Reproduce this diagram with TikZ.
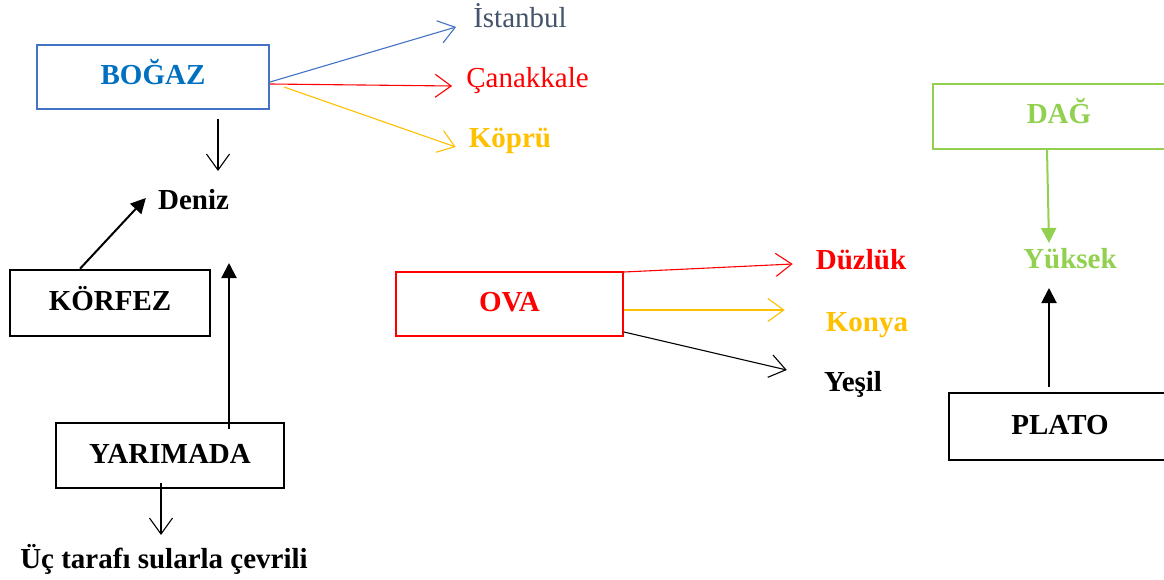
\documentclass[tikz,border=0pt]{standalone}
\usepackage{fontspec}
\setmainfont{Liberation Serif}
\usetikzlibrary{arrows.meta}
\definecolor{bxblue}{HTML}{4472C4}
\definecolor{txblue}{HTML}{0070C0}
\definecolor{slate}{HTML}{44546A}
\definecolor{gold}{HTML}{FFC000}
\definecolor{lgreen}{HTML}{92D050}
\definecolor{pure red}{HTML}{FF0000}
\begin{document}
\begin{tikzpicture}[x=1pt,y=-1pt,
  tbox/.style={draw, rectangle, line width=2pt, inner sep=0pt,
    text height=20pt, text depth=5pt,
    font=\fontsize{29}{31}\selectfont\bfseries},
  lbl/.style={inner sep=0pt, anchor=base, font=\fontsize{29}{31}\selectfont\bfseries},
  lblr/.style={inner sep=0pt, anchor=base, font=\fontsize{29}{31}\selectfont},
  openarr/.style={line width=1.1pt, -{Straight Barb[length=16pt,width=23pt,line width=1.1pt]}},
  solidarr/.style={line width=2pt, -{Triangle[length=15pt,width=15pt]}}]
\clip (0,0) rectangle (1164,580);
\fill[white] (0,0) rectangle (1164,580);

% boxes
\node[tbox, draw=bxblue, text=txblue, minimum width=232pt, minimum height=64pt] (bogaz) at (153,77) {BOĞAZ};
\node[tbox, line width=2.5pt, minimum width=200pt, minimum height=66pt] (korfez) at (110,303) {KÖRFEZ};
\node[tbox, line width=2.5pt, minimum width=228pt, minimum height=65pt] (yarimada) at (170,455.5) {YARIMADA};
\node[tbox, draw=pure red, text=pure red, minimum width=227pt, minimum height=64pt] (ova) at (509.5,304) {OVA};
\node[tbox, draw=lgreen, text=lgreen, minimum width=252pt, minimum height=65pt] (dag) at (1059,116.5) {DAĞ};
\node[tbox, line width=2.5pt, minimum width=222pt, minimum height=67pt] (plato) at (1060,426.5) {PLATO};

% labels
\node[lblr, text=slate] (ist) at (520,28) {İstanbul};
\node[lblr, text=pure red] (can) at (527.5,88) {Çanakkale};
\node[lbl, text=gold] (kopru) at (510,148) {Köprü};
\node[lbl] (deniz) at (193.5,209) {Deniz};
\node[lbl] (uc) at (164,568) {Üç tarafı sularla çevrili};
\node[lbl, text=pure red] (duzluk) at (861,269) {Düzlük};
\node[lbl, text=gold] (konya) at (867,331) {Konya};
\node[lbl] (yesil) at (853,391) {Yeşil};
\node[lbl, text=lgreen] (yuksek) at (1070,268) {Yüksek};

% BOGAZ connectors
\draw[openarr, draw=bxblue] ([yshift=-5pt]bogaz.east) -- ([xshift=-17pt,yshift=1pt]ist.base west);
\draw[openarr, draw=pure red] ([yshift=-7pt]bogaz.east) -- ([xshift=-14pt,yshift=2pt]can.base west);
\draw[openarr, draw=gold] ([xshift=14pt,yshift=-10pt]bogaz.east) -- ([xshift=-13pt,yshift=1pt]kopru.base west);
\draw[openarr] ([xshift=65pt,yshift=-9pt]bogaz.south) -- ([xshift=24.5pt,yshift=38pt]deniz.base);

% KORFEZ, YARIMADA
\draw[solidarr] ([xshift=-30pt]korfez.north) -- ([xshift=-12pt,yshift=11pt]deniz.base west);
\draw[solidarr] ([xshift=59pt,yshift=-7pt]yarimada.north) -- ([xshift=35.5pt,yshift=-54pt]deniz.base);
\draw[openarr] ([xshift=-9pt,yshift=6pt]yarimada.south) -- ([xshift=-3pt,yshift=33pt]uc.base);

% OVA
\draw[openarr, draw=pure red] ([yshift=-1pt]ova.north east) -- ([xshift=-23pt,yshift=5pt]duzluk.base west);
\draw[openarr, draw=gold] ([yshift=-6pt]ova.east) -- ([xshift=-41pt,yshift=21pt]konya.base west);
\draw[openarr] ([yshift=5pt]ova.south east) -- ([xshift=-37pt,yshift=21pt]yesil.base west);

% DAG, PLATO
\draw[solidarr, draw=lgreen, fill=lgreen] ([xshift=-12pt]dag.south) -- ([xshift=-21pt,yshift=25pt]yuksek.base);
\draw[solidarr] ([xshift=-11pt,yshift=5pt]plato.north) -- ([xshift=-21pt,yshift=-20pt]yuksek.base);
\end{tikzpicture}
\end{document}
